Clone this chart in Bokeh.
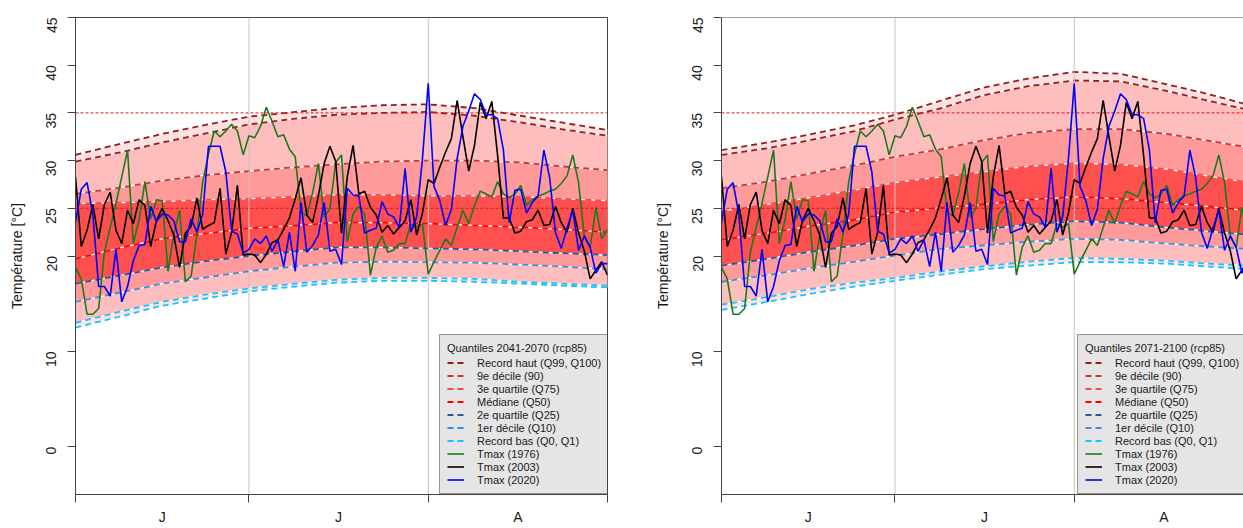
import math

from bokeh.embed import file_html
from bokeh.layouts import row
from bokeh.models import FixedTicker, Legend, LegendItem, Range1d, Span
from bokeh.plotting import figure
from bokeh.resources import INLINE

FONT = "Liberation Sans"
AXIS_COLOR = "#444444"
TEXT_COLOR = "#1a1a1a"

# ---------------------------------------------------------------- data
months = ["J", "J", "A"]
month_lengths = [30, 31, 31]

y_ticks = [0, 10, 20, 25, 30, 35, 40, 45]
thresholds = [25, 35]

# days (from 1 June) at which the climatological quantiles are given
q_days = [0, 8, 15, 23, 30, 38, 45, 53, 61, 69, 77, 84, 92]

# quantiles 2041-2070 (rcp85)
q100_2041 = [30.6, 31.8, 32.8, 33.8, 34.6, 35.1, 35.5, 35.8, 35.9, 35.5, 34.7, 34.0, 33.2]
q99_2041 = [29.9, 30.9, 31.9, 32.9, 33.8, 34.4, 34.8, 35.0, 35.1, 34.7, 34.0, 33.3, 32.6]
q90_2041 = [26.5, 27.2, 27.9, 28.5, 28.9, 29.3, 29.6, 29.9, 30.0, 30.0, 29.8, 29.4, 29.0]
q75_2041 = [25.5, 25.6, 25.7, 25.9, 26.0, 26.2, 26.4, 26.4, 26.3, 26.3, 26.2, 26.0, 25.8]
q50_2041 = [19.7, 20.9, 21.8, 22.4, 22.9, 23.2, 23.5, 23.5, 23.4, 23.2, 23.0, 22.8, 22.5]
q25_2041 = [17.1, 18.0, 18.8, 19.5, 20.0, 20.5, 20.9, 20.9, 20.8, 20.7, 20.5, 20.3, 20.1]
q10_2041 = [15.2, 16.2, 17.1, 17.8, 18.4, 18.9, 19.3, 19.4, 19.35, 19.3, 19.1, 18.9, 18.6]
q1_2041 = [13.0, 14.2, 15.2, 16.0, 16.6, 17.1, 17.5, 17.7, 17.7, 17.6, 17.3, 17.1, 16.9]
q0_2041 = [12.5, 13.7, 14.8, 15.6, 16.3, 16.8, 17.2, 17.4, 17.4, 17.3, 17.1, 16.9, 16.7]

# quantiles 2071-2100 (rcp85)
q100_2071 = [31.1, 31.9, 32.7, 33.7, 34.8, 36.3, 37.6, 38.6, 39.3, 39.1, 38.0, 37.0, 35.7]
q99_2071 = [30.6, 31.3, 32.1, 33.1, 34.3, 35.5, 36.8, 37.8, 38.4, 38.3, 37.3, 36.3, 35.2]
q90_2071 = [27.1, 27.8, 28.6, 29.5, 30.4, 31.2, 32.1, 32.9, 33.3, 33.3, 32.8, 32.1, 31.3]
q75_2071 = [24.7, 25.4, 26.1, 26.9, 27.7, 28.3, 28.8, 29.4, 29.7, 29.6, 29.1, 28.4, 27.6]
q50_2071 = [21.7, 22.4, 23.1, 23.8, 24.6, 25.05, 25.4, 25.9, 26.2, 26.0, 25.6, 25.2, 24.7]
q25_2071 = [19.0, 19.7, 20.4, 21.1, 21.8, 22.3, 22.8, 23.3, 23.65, 23.5, 23.0, 22.6, 22.2]
q10_2071 = [17.3, 18.0, 18.7, 19.4, 20.05, 20.75, 21.1, 21.5, 21.8, 21.7, 21.3, 21.0, 20.7]
q1_2071 = [14.9, 15.7, 16.5, 17.2, 17.7, 18.4, 18.9, 19.4, 19.8, 19.7, 19.5, 19.2, 18.95]
q0_2071 = [14.35, 15.2, 16.0, 16.8, 17.4, 18.05, 18.6, 19.0, 19.35, 19.35, 19.2, 18.9, 18.6]

# observed daily maximum temperature, 1 June - 31 August
tmax_1976 = [
    18.8, 17.6, 13.9, 13.9, 14.5, 20.4, 23.0, 25.5, 28.3, 31.1,
    21.3, 23.8, 27.8, 23.9, 25.9, 25.8, 18.4, 22.3, 24.8, 17.3,
    17.9, 22.3, 27.8, 30.7, 33.1, 32.5, 33.1, 33.8, 33.1, 30.6,
    32.6, 32.4, 33.6, 35.6, 34.1, 32.5, 32.7, 31.2, 30.4, 24.6,
    24.2, 26.6, 29.7, 24.1, 25.0, 29.8, 30.6, 21.5, 24.4, 25.2,
    24.4, 18.0, 20.9, 22.1, 20.4, 20.6, 21.3, 21.3, 23.4, 23.0,
    23.4, 18.1, 19.4, 20.6, 21.8, 21.1, 23.0, 24.8, 23.4, 25.3,
    26.8, 26.5, 26.2, 27.8, 26.5, 26.1, 26.5, 27.4, 25.3, 25.9,
    26.3, 26.5, 26.8, 27.0, 27.6, 28.4, 30.6, 27.7, 22.0, 20.9,
    25.1, 21.8, 22.8,
]
tmax_2003 = [
    28.3, 21.0, 22.7, 25.4, 21.8, 25.4, 26.7, 22.7, 21.3, 24.8,
    23.4, 25.9, 25.3, 21.0, 23.7, 25.0, 23.7, 22.2, 18.8, 22.4,
    23.1, 26.1, 22.8, 23.2, 23.5, 27.1, 20.2, 22.5, 27.4, 20.1,
    20.2, 20.1, 19.3, 20.2, 21.4, 21.7, 22.8, 24.0, 26.0, 28.2,
    24.3, 23.5, 26.3, 29.7, 31.5, 29.9, 22.4, 28.3, 31.6, 26.5,
    26.8, 25.1, 24.3, 22.5, 23.2, 22.3, 23.0, 23.7, 25.9, 22.2,
    24.5, 28.0, 27.6, 29.3, 30.9, 32.3, 36.3, 32.5, 28.9, 31.6,
    36.1, 34.4, 36.2, 30.5, 24.0, 24.0, 22.4, 22.6, 23.6, 23.8,
    24.8, 23.2, 23.3, 25.2, 23.5, 22.5, 25.0, 22.4, 20.5, 17.6,
    18.5, 19.4, 18.0,
]
tmax_2020 = [
    23.5, 27.0, 27.7, 24.4, 16.8, 16.8, 15.8, 20.7, 15.2, 16.8,
    19.5, 21.1, 21.2, 25.2, 23.6, 24.4, 24.3, 23.7, 21.5, 21.5,
    23.9, 22.5, 24.4, 31.5, 31.5, 31.5, 28.8, 22.6, 22.3, 20.3,
    20.7, 21.8, 21.3, 22.1, 20.5, 21.7, 18.9, 22.5, 18.4, 25.6,
    20.4, 21.1, 22.2, 25.6, 20.5, 20.7, 19.1, 27.1, 26.4, 26.3,
    22.4, 22.7, 22.9, 25.7, 24.4, 24.1, 23.0, 29.2, 22.5, 24.1,
    30.2, 38.1, 27.3, 25.8, 23.2, 24.9, 30.2, 33.6, 35.2, 37.0,
    36.4, 34.8, 34.8, 34.4, 31.1, 23.5, 26.9, 27.0, 24.5, 25.6,
    26.3, 31.1, 28.2, 22.5, 20.8, 22.9, 24.8, 20.6, 22.1, 20.9,
    18.2, 19.2, 19.2,
]

# ---------------------------------------------------------------- styles
Y_MIN, Y_MAX = -5, 45
days = list(range(len(tmax_1976)))
month_edges = [sum(month_lengths[:i]) for i in range(len(month_lengths) + 1)]
month_centers = [(a + b) / 2 for a, b in zip(month_edges[:-1], month_edges[1:])]
TOTAL_DAYS = month_edges[-1]

BAND_COLORS = ["#FFE1E1", "#FFBEBE", "#FF9A9A", "#FF5050"]
Q_STYLE = [
    ("Record haut (Q99, Q100)", "#9B1B1B"),
    ("9e décile (90)", "#CC3333"),
    ("3e quartile (Q75)", "#F54848"),
    ("Médiane (Q50)", "#FF0000"),
    ("2e quartile (Q25)", "#25589F"),
    ("1er décile (Q10)", "#3C8DDC"),
    ("Record bas (Q0, Q1)", "#19C3FF"),
]
SERIES = [
    ("Tmax (1976)", tmax_1976, "#1B7A1B"),
    ("Tmax (2003)", tmax_2003, "#000000"),
    ("Tmax (2020)", tmax_2020, "#0000FF"),
]

BORDER_L, BORDER_T, BORDER_B = 75, 17, 34
P1_W, P1_BORDER_R = 646, 39
P2_W, P2_BORDER_R = 597, 0
FRAME_W1 = P1_W - BORDER_L - P1_BORDER_R
FRAME_W2 = P2_W - BORDER_L - P2_BORDER_R
LEGEND_W = 168


def panel(period, q, width, border_r, x_end, boxed, legend_x):
    q0, q1, q10, q25, q50, q75, q90, q99, q100 = q
    p = figure(
        width=width, height=528,
        x_range=Range1d(0, x_end), y_range=Range1d(Y_MIN, Y_MAX),
        output_backend="svg", toolbar_location=None,
        min_border_left=BORDER_L, min_border_right=border_r,
        min_border_top=BORDER_T, min_border_bottom=BORDER_B,
        background_fill_color="white", border_fill_color="white",
    )
    p.xgrid.visible = False
    p.ygrid.visible = False
    p.outline_line_color = AXIS_COLOR if boxed else None
    if not boxed:
        p.add_layout(Span(location=Y_MAX, dimension="width",
                          line_color=AXIS_COLOR, line_width=1))

    # quantile bands
    for lo, hi, col in [(q0, q100, BAND_COLORS[0]), (q1, q99, BAND_COLORS[1]),
                        (q10, q90, BAND_COLORS[2]), (q25, q75, BAND_COLORS[3])]:
        p.varea(x=q_days, y1=lo, y2=hi, fill_color=col)

    # quantile curves
    curves = [[q99, q100], [q90], [q75], [q50], [q25], [q10], [q0, q1]]
    legend_items = []
    for (label, col), group in zip(Q_STYLE, curves):
        rs = []
        for vals in group:
            p.line(q_days, vals, line_color="white", line_width=1.2)
            rs.append(p.line(q_days, vals, line_color=col, line_width=1.8,
                             line_dash="6 4"))
        legend_items.append(LegendItem(label=label, renderers=[rs[0]]))

    # heat thresholds
    for t in thresholds:
        p.line([0, TOTAL_DAYS], [t, t], line_color="#D41A1A", line_width=1,
               line_dash="3 2")

    # month separators
    inner = month_edges[1:-1]
    p.segment(x0=inner, x1=inner, y0=[Y_MIN] * len(inner), y1=[Y_MAX] * len(inner),
              line_color="#C4C4C4", line_width=1)

    # observations
    for label, vals, col in SERIES:
        r = p.line(days, vals, line_color=col, line_width=1.6)
        legend_items.append(LegendItem(label=label, renderers=[r]))

    legend = Legend(
        items=legend_items, location=(legend_x, 0),
        title=f"Quantiles {period} (rcp85)",
        title_text_font=FONT, title_text_font_size="11px",
        title_text_font_style="normal", title_text_color=TEXT_COLOR,
        title_standoff=2,
        label_text_font=FONT, label_text_font_size="11px",
        label_text_color=TEXT_COLOR,
        glyph_width=17, glyph_height=13, label_height=13, label_standoff=13,
        spacing=0, padding=7, margin=0,
        background_fill_color="#E5E5E5", background_fill_alpha=1.0,
        border_line_color=AXIS_COLOR, border_line_width=1,
    )
    p.add_layout(legend)

    # x axis: month initials centred on each month, tick marks at boundaries
    xa = p.xaxis[0]
    xa.ticker = FixedTicker(ticks=month_centers, minor_ticks=month_edges)
    xa.major_label_overrides = {c: m for c, m in zip(month_centers, months)}
    xa.axis_line_color = AXIS_COLOR
    xa.major_tick_line_color = None
    xa.major_tick_out = 0
    xa.major_tick_in = 0
    xa.minor_tick_line_color = AXIS_COLOR
    xa.minor_tick_out = 8
    xa.minor_tick_in = 0
    xa.major_label_standoff = 6
    xa.major_label_text_font = FONT
    xa.major_label_text_font_size = "14px"
    xa.major_label_text_color = TEXT_COLOR

    ya = p.yaxis[0]
    ya.ticker = FixedTicker(ticks=y_ticks)
    ya.axis_line_color = AXIS_COLOR
    ya.major_tick_line_color = AXIS_COLOR
    ya.major_tick_out = 8
    ya.major_tick_in = 0
    ya.minor_tick_line_color = None
    ya.major_label_orientation = math.pi / 2
    ya.major_label_text_font = FONT
    ya.major_label_text_font_size = "14px"
    ya.major_label_text_color = TEXT_COLOR
    ya.major_label_standoff = 16
    ya.axis_label = "Température [°C]"
    ya.axis_label_text_font = FONT
    ya.axis_label_text_font_size = "14px"
    ya.axis_label_text_font_style = "normal"
    ya.axis_label_text_color = TEXT_COLOR
    ya.axis_label_standoff = 14
    return p


p1 = panel("2041-2070",
           [q0_2041, q1_2041, q10_2041, q25_2041, q50_2041, q75_2041, q90_2041, q99_2041, q100_2041],
           P1_W, P1_BORDER_R, TOTAL_DAYS, True, FRAME_W1 - LEGEND_W)
p2 = panel("2071-2100",
           [q0_2071, q1_2071, q10_2071, q25_2071, q50_2071, q75_2071, q90_2071, q99_2071, q100_2071],
           P2_W, P2_BORDER_R, TOTAL_DAYS * FRAME_W2 / FRAME_W1, False, FRAME_W1 - LEGEND_W - 8)

layout = row(p1, p2)
open("out.html", "w").write(file_html(layout, INLINE))
